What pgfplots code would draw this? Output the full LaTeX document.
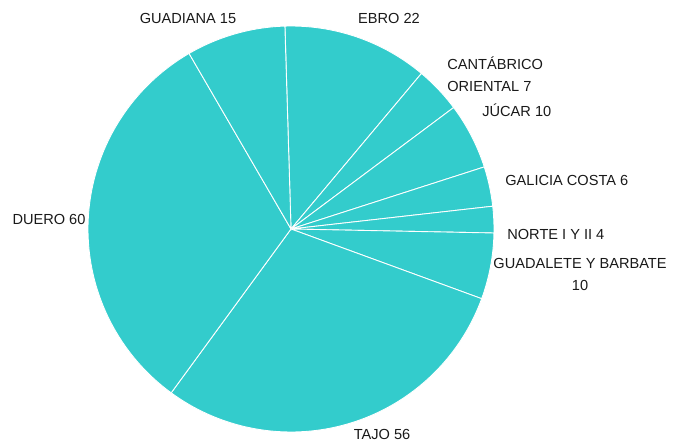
\documentclass[border=0pt]{standalone}
\usepackage{fontspec}
\setmainfont{Liberation Sans}
\usepackage{pgfplots}
\pgfplotsset{compat=1.18}
\definecolor{piecol}{RGB}{51,204,204}
% values: EBRO, CANTABRICO ORIENTAL, JUCAR, GALICIA COSTA, NORTE I Y II, GUADALETE Y BARBATE, TAJO, DUERO, GUADIANA
\def\vA{22}\def\vB{7}\def\vC{10}\def\vD{6}\def\vE{4}\def\vF{10}\def\vG{56}\def\vH{60}\def\vI{15}
\pgfmathsetmacro\tot{\vA+\vB+\vC+\vD+\vE+\vF+\vG+\vH+\vI}
\pgfmathsetmacro\aA{91.7}
\pgfmathsetmacro\aB{\aA-\vA/\tot*360}
\pgfmathsetmacro\aC{\aB-\vB/\tot*360}
\pgfmathsetmacro\aD{\aC-\vC/\tot*360}
\pgfmathsetmacro\aE{\aD-\vD/\tot*360}
\pgfmathsetmacro\aF{\aE-\vE/\tot*360}
\pgfmathsetmacro\aG{\aF-\vF/\tot*360}
\pgfmathsetmacro\aH{\aG-\vG/\tot*360}
\pgfmathsetmacro\aI{\aH-\vH/\tot*360}
\pgfmathsetmacro\aJ{\aI-\vI/\tot*360}
\begin{document}
\begin{tikzpicture}
\begin{axis}[
  x=2cm, y=2cm,
  xmin=0, xmax=6.81, ymin=0, ymax=4.43,
  hide axis, clip=false,
]
\path (axis cs:0,0) rectangle (axis cs:6.81,4.43);
\tikzset{sec/.style={fill=piecol, draw=white, line width=0.5pt}}
\fill[sec] (axis cs:2.91,2.14) -- ++(\aA:4.06cm) arc[start angle=\aA, end angle=\aB, radius=4.06cm] -- cycle;
\fill[sec] (axis cs:2.91,2.14) -- ++(\aB:4.06cm) arc[start angle=\aB, end angle=\aC, radius=4.06cm] -- cycle;
\fill[sec] (axis cs:2.91,2.14) -- ++(\aC:4.06cm) arc[start angle=\aC, end angle=\aD, radius=4.06cm] -- cycle;
\fill[sec] (axis cs:2.91,2.14) -- ++(\aD:4.06cm) arc[start angle=\aD, end angle=\aE, radius=4.06cm] -- cycle;
\fill[sec] (axis cs:2.91,2.14) -- ++(\aE:4.06cm) arc[start angle=\aE, end angle=\aF, radius=4.06cm] -- cycle;
\fill[sec] (axis cs:2.91,2.14) -- ++(\aF:4.06cm) arc[start angle=\aF, end angle=\aG, radius=4.06cm] -- cycle;
\fill[sec] (axis cs:2.91,2.14) -- ++(\aG:4.06cm) arc[start angle=\aG, end angle=\aH, radius=4.06cm] -- cycle;
\fill[sec] (axis cs:2.91,2.14) -- ++(\aH:4.06cm) arc[start angle=\aH, end angle=\aI, radius=4.06cm] -- cycle;
\fill[sec] (axis cs:2.91,2.14) -- ++(\aI:4.06cm) arc[start angle=\aI, end angle=\aJ, radius=4.06cm] -- cycle;
\tikzset{lab/.style={font=\fontsize{8.3}{12.5}\selectfont, inner sep=0pt, text=black!90}}
\node[lab] at (axis cs:1.88,4.25) {GUADIANA 15};
\node[lab] at (axis cs:3.89,4.25) {EBRO 22};
\node[lab, anchor=west, align=left] at (axis cs:4.47,3.69) {CANTÁBRICO\\ORIENTAL 7};
\node[lab, anchor=west] at (axis cs:4.82,3.33) {JÚCAR 10};
\node[lab, anchor=west] at (axis cs:5.05,2.63) {GALICIA COSTA 6};
\node[lab, anchor=west] at (axis cs:5.07,2.09) {NORTE I Y II 4};
\node[lab, align=center] at (axis cs:5.80,1.69) {GUADALETE Y BARBATE\\10};
\node[lab] at (axis cs:3.82,0.09) {TAJO 56};
\node[lab] at (axis cs:0.49,2.24) {DUERO 60};
\end{axis}
\end{tikzpicture}
\end{document}
